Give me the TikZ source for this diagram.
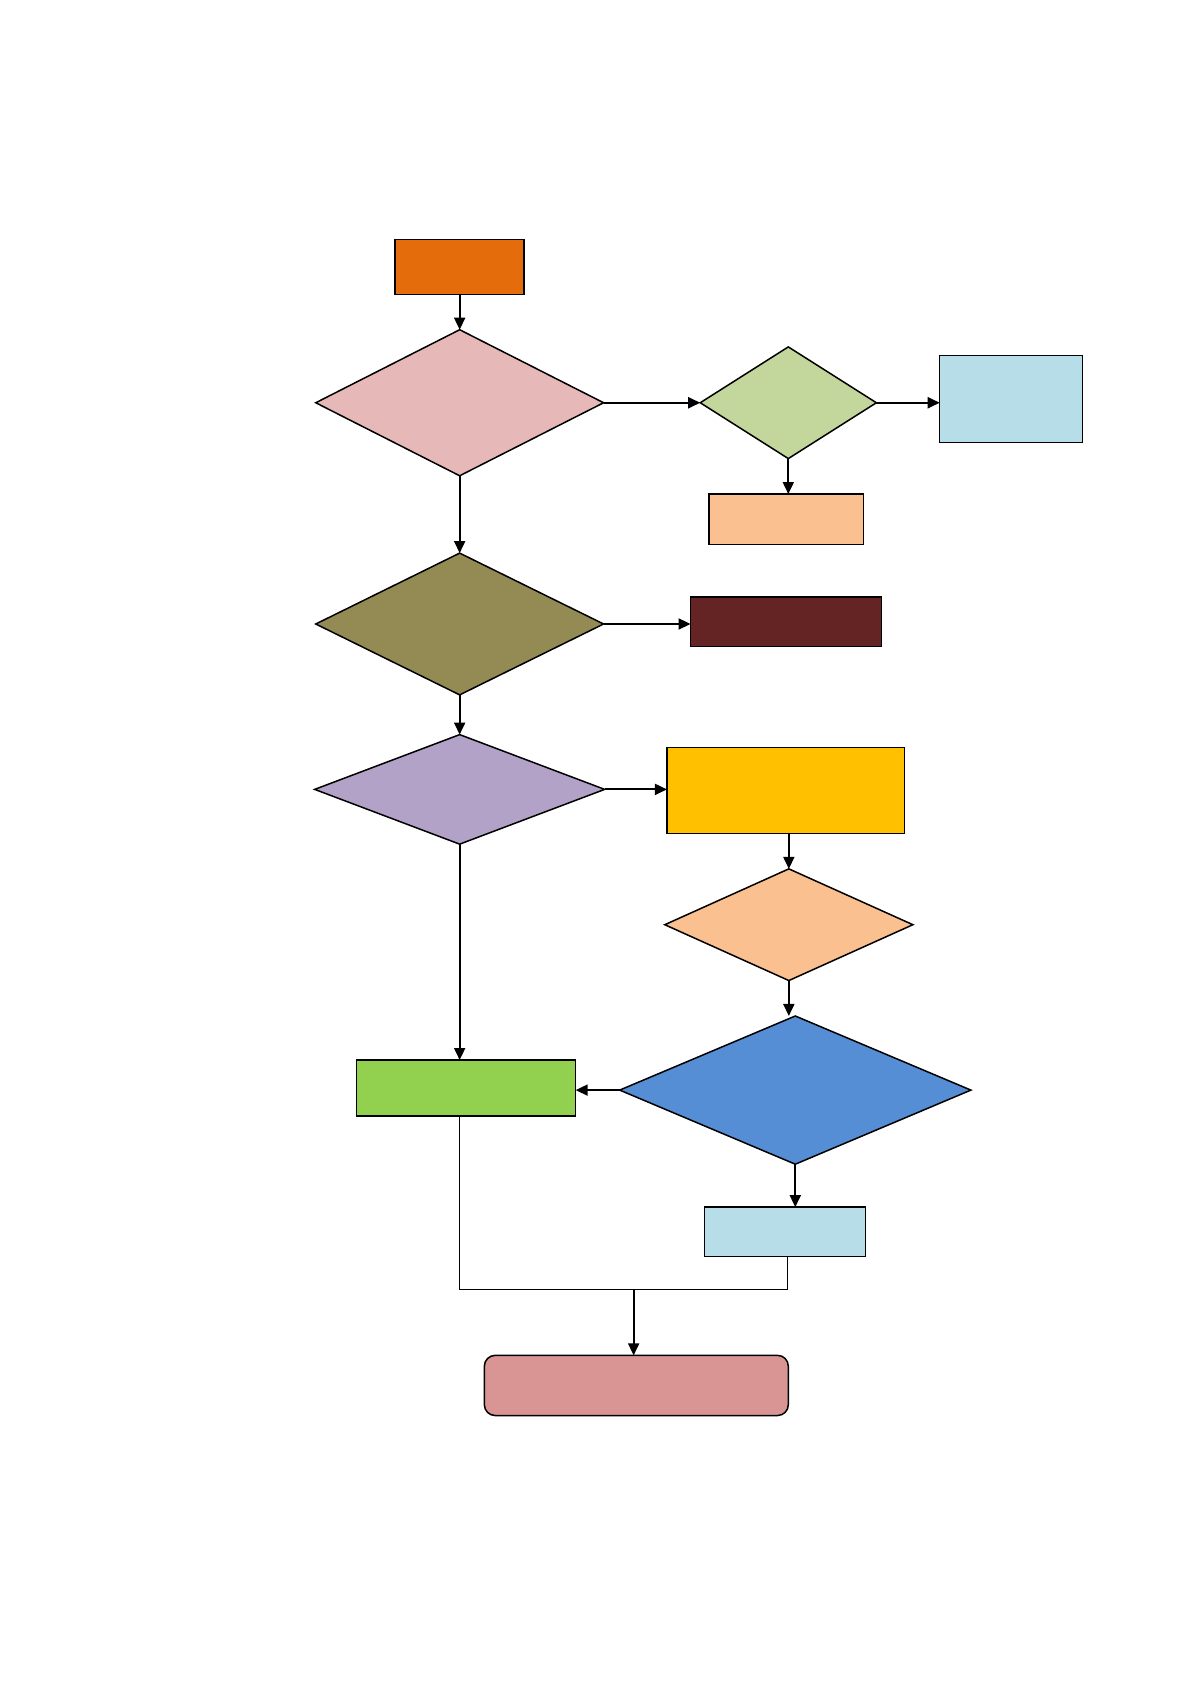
\documentclass[tikz,border=0pt]{standalone}
\usetikzlibrary{shapes.geometric,arrows.meta}
\newcommand{\pxu}{0.5363pt}
\definecolor{cOrange}{HTML}{E46C0A}
\definecolor{cPink}{HTML}{E6B9B8}
\definecolor{cLgreen}{HTML}{C3D69B}
\definecolor{cLblue}{HTML}{B7DEE8}
\definecolor{cPeach}{HTML}{FAC090}
\definecolor{cOlive}{HTML}{948A54}
\definecolor{cDred}{HTML}{632423}
\definecolor{cPurple}{HTML}{B2A2C7}
\definecolor{cYellow}{HTML}{FFC000}
\definecolor{cBlue}{HTML}{558ED5}
\definecolor{cGreen}{HTML}{92D050}
\definecolor{cRose}{HTML}{D99594}
\tikzset{
  boxnode/.style={draw=black, line width=0.75pt, rectangle, inner sep=0pt, outer sep=0pt},
  dianode/.style={draw=black, line width=0.75pt, diamond, inner sep=0pt, outer sep=0pt},
  flow/.style={line width=0.9pt, -{Triangle[length=6pt,width=5.5pt]}},
  thinline/.style={line width=0.5pt}
}
\begin{document}
\begin{tikzpicture}[x=\pxu,y=-\pxu]
\useasboundingbox (0,0) rectangle (1110,1568);
% nodes
\node[boxnode, fill=cOrange, minimum width=120*\pxu, minimum height=51*\pxu] (o) at (428,248.5) {};
\node[dianode, fill=cPink, minimum width=268*\pxu, minimum height=136*\pxu] (p) at (428,375) {};
\node[dianode, fill=cLgreen, minimum width=164*\pxu, minimum height=104*\pxu] (g) at (734,375) {};
\node[boxnode, fill=cLblue, minimum width=133*\pxu, minimum height=81*\pxu] (lb) at (941.5,371.5) {};
\node[boxnode, fill=cPeach, minimum width=144*\pxu, minimum height=47*\pxu] (pe) at (732,483.5) {};
\node[dianode, fill=cOlive, minimum width=268*\pxu, minimum height=132*\pxu] (ol) at (428,581) {};
\node[boxnode, fill=cDred, minimum width=178*\pxu, minimum height=46*\pxu] (dr) at (732,579) {};
\node[dianode, fill=cPurple, minimum width=270*\pxu, minimum height=102*\pxu] (pu) at (428,735) {};
\node[boxnode, fill=cYellow, minimum width=221*\pxu, minimum height=80*\pxu] (y) at (731.5,736) {};
\node[dianode, fill=cPeach, minimum width=231*\pxu, minimum height=104*\pxu] (pe2) at (734.5,861) {};
\node[dianode, fill=cBlue, minimum width=327*\pxu, minimum height=138*\pxu] (bl) at (740.5,1015) {};
\node[boxnode, fill=cGreen, minimum width=204*\pxu, minimum height=52*\pxu] (gr) at (434,1013) {};
\node[boxnode, fill=cLblue, minimum width=150*\pxu, minimum height=46*\pxu] (lb2) at (731,1147) {};
\node[boxnode, fill=cRose, rounded corners=10*\pxu, minimum width=283*\pxu, minimum height=56*\pxu] (en) at (592.5,1290) {};
\coordinate (j) at (590,1201);
% connectors
\draw[flow] (o.south) -- (p.north);
\draw[flow] (p.east) -- (g.west);
\draw[flow] (g.east) -- (g.east -| lb.west);
\draw[flow] (g.south) -- (g.south |- pe.north);
\draw[flow] (p.south) -- (ol.north);
\draw[flow] (ol.east) -- (ol.east -| dr.west);
\draw[flow] (ol.south) -- (pu.north);
\draw[flow] (pu.east) -- (pu.east -| y.west);
\draw[flow] (pe2.north |- y.south) -- (pe2.north);
\draw[flow] (pe2.south) -- (pe2.south |- bl.north);
\draw[flow] (pu.south) -- (pu.south |- gr.north);
\draw[flow] (bl.west) -- (bl.west -| gr.east);
\draw[flow] (bl.south) -- (bl.south |- lb2.north);
\draw[thinline] (pu.south |- gr.south) |- (j) -| ([xshift=2*\pxu]lb2.south);
\draw[flow] (j) -- (j |- en.north);
\end{tikzpicture}
\end{document}
